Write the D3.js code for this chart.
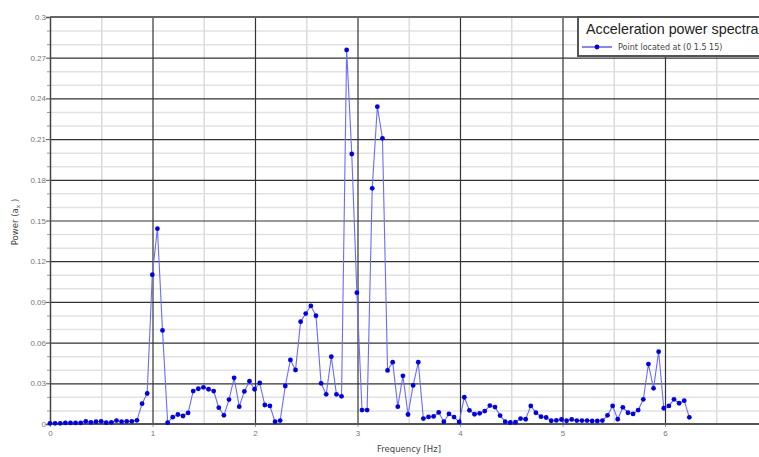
<!DOCTYPE html>
<html lang="en">
<head>
    <meta charset="UTF-8">
    <script src="https://d3js.org/d3.v7.min.js"></script>
    <style>
        body {
            margin: 0;
            padding: 0;
            background-color: #ffffff;
            font-family: 'DejaVu Sans', sans-serif;
        }

        svg {
            display: block;
        }

        .tick-label {
            fill: #777;
            font-size: 8px;
        }

        .axis-title {
            fill: #444;
            font-size: 8.5px;
        }
    </style>
</head>
<body>
    <svg id="chart"></svg>

    <script>
        // Frequencies [Hz] of the spectrum bins
        const freqs = [
            0, 0.0499, 0.0998, 0.1497, 0.1996, 0.2495, 0.2994, 0.3493, 0.3992, 0.4491,
            0.499, 0.5489, 0.5988, 0.6487, 0.6986, 0.7485, 0.7984, 0.8483, 0.8982, 0.9481,
            0.998, 1.0479, 1.0978, 1.1477, 1.1976, 1.2475, 1.2974, 1.3473, 1.3972, 1.4471,
            1.497, 1.5469, 1.5968, 1.6467, 1.6966, 1.7465, 1.7964, 1.8463, 1.8962, 1.9461,
            1.996, 2.0459, 2.0958, 2.1457, 2.1956, 2.2455, 2.2954, 2.3453, 2.3952, 2.4451,
            2.495, 2.5449, 2.5948, 2.6447, 2.6946, 2.7445, 2.7944, 2.8443, 2.8942, 2.9441,
            2.994, 3.0439, 3.0938, 3.1437, 3.1936, 3.2435, 3.2934, 3.3433, 3.3932, 3.4431,
            3.493, 3.5429, 3.5928, 3.6427, 3.6926, 3.7425, 3.7924, 3.8423, 3.8922, 3.9421,
            3.992, 4.0419, 4.0918, 4.1417, 4.1916, 4.2415, 4.2914, 4.3413, 4.3912, 4.4411,
            4.491, 4.5409, 4.5908, 4.6407, 4.6906, 4.7405, 4.7904, 4.8403, 4.8902, 4.9401,
            4.99, 5.0399, 5.0898, 5.1397, 5.1896, 5.2395, 5.2894, 5.3393, 5.3892, 5.4391,
            5.489, 5.5389, 5.5888, 5.6387, 5.6886, 5.7385, 5.7884, 5.8383, 5.8882, 5.9381,
            5.988, 6.0379, 6.0878, 6.1377, 6.1876, 6.2375
        ];

        // Power values
        const power = [
            0.0005, 0.0005, 0.0005, 0.0008, 0.0008, 0.0008, 0.0008, 0.002, 0.0012, 0.0017,
            0.002, 0.001, 0.0012, 0.0025, 0.0017, 0.002, 0.002, 0.0027, 0.015, 0.0225,
            0.110, 0.144, 0.069, 0.001, 0.005, 0.007, 0.0059, 0.0082, 0.0243, 0.026,
            0.027, 0.0256, 0.0243, 0.012, 0.0064, 0.018, 0.034, 0.0128, 0.024, 0.0315,
            0.0256, 0.0303, 0.014, 0.0133, 0.0017, 0.0025, 0.028, 0.0472, 0.0398, 0.0754,
            0.0814, 0.087, 0.0798, 0.030, 0.0219, 0.0496, 0.0219, 0.0204, 0.2757, 0.199,
            0.0968, 0.0103, 0.0103, 0.1737, 0.2339, 0.2106, 0.0395, 0.0456, 0.0128, 0.0355,
            0.007, 0.0284, 0.0455, 0.004, 0.0052, 0.0056, 0.0085, 0.0017, 0.0074, 0.0051,
            0.0015, 0.0197, 0.0101, 0.0072, 0.0079, 0.0095, 0.0136, 0.0125, 0.0062, 0.0017,
            0.0011, 0.0013, 0.004, 0.0035, 0.0133, 0.0083, 0.0054, 0.0048, 0.0024, 0.0026,
            0.0033, 0.0024, 0.0034, 0.0025, 0.0025, 0.0025, 0.0022, 0.0022, 0.0025, 0.0064,
            0.0133, 0.0035, 0.0123, 0.0083, 0.0074, 0.0103, 0.0182, 0.0442, 0.0263, 0.0533,
            0.0116, 0.0133, 0.0182, 0.0153, 0.0172, 0.0049
        ];

        // Axis ticks
        const xTicks = [0, 1, 2, 3, 4, 5, 6];
        const xMinorTicks = [0.5, 1.5, 2.5, 3.5, 4.5, 5.5, 6.5];
        const yTicks = [0, 0.03, 0.06, 0.09, 0.12, 0.15, 0.18, 0.21, 0.24, 0.27, 0.3];
        const yTickLabels = ["0", "0.03", "0.06", "0.09", "0.12", "0.15", "0.18", "0.21", "0.24", "0.27", "0.3"];
        const yMinorTicks = [0.01, 0.02, 0.04, 0.05, 0.07, 0.08, 0.1, 0.11, 0.13, 0.14,
            0.16, 0.17, 0.19, 0.2, 0.22, 0.23, 0.25, 0.26, 0.28, 0.29];

        const legendTitle = "Acceleration power spectra";
        const seriesName = "Point located at (0 1.5 15)";

        const W = 759, H = 457;
        const margin = { top: 17, left: 50 };
        const plotH = 407;
        const plotW = 102.5 * 7; // runs past the right edge, as in the original

        const svg = d3.select("#chart")
            .attr("width", W)
            .attr("height", H);

        const g = svg.append("g")
            .attr("transform", `translate(${margin.left},${margin.top})`);

        const x = d3.scaleLinear().domain([0, 7]).range([0, plotW]);
        const y = d3.scaleLinear().domain([0, 0.3]).range([plotH, 0]);

        // minor grid
        g.append("g")
            .call(d3.axisLeft(y).tickValues(yMinorTicks).tickSize(-plotW).tickFormat(""))
            .call(a => a.select(".domain").remove())
            .selectAll("line").attr("stroke", "#e2e2e2").attr("stroke-width", 1.5);

        g.append("g")
            .call(d3.axisBottom(x).tickValues(xMinorTicks).tickSize(plotH).tickFormat(""))
            .call(a => a.select(".domain").remove())
            .selectAll("line").attr("stroke", "#dcdcdc").attr("stroke-width", 1.5);

        // minor ticks on the left of the y axis
        g.append("g")
            .call(d3.axisLeft(y).tickValues(yMinorTicks).tickSize(3).tickFormat(""))
            .call(a => a.select(".domain").remove())
            .selectAll("line").attr("stroke", "#999");

        // major grid
        g.append("g")
            .call(d3.axisLeft(y).tickValues(yTicks).tickSize(-plotW).tickFormat(""))
            .call(a => a.select(".domain").remove())
            .selectAll("line").attr("stroke", "#333").attr("stroke-width", 1.2);

        g.append("g")
            .call(d3.axisBottom(x).tickValues(xTicks.slice(1)).tickSize(plotH).tickFormat(""))
            .call(a => a.select(".domain").remove())
            .selectAll("line").attr("stroke", "#333").attr("stroke-width", 1.2);

        // y axis with labels
        const yAxis = g.append("g")
            .call(d3.axisLeft(y).tickValues(yTicks).tickSize(4)
                .tickFormat((d, i) => yTickLabels[i]));
        yAxis.select(".domain").attr("stroke", "#444").attr("stroke-width", 1.5);
        yAxis.selectAll("line").attr("stroke", "#555");
        yAxis.selectAll("text").attr("class", "tick-label").attr("x", -4).attr("dy", "0.32em");

        // x axis with labels
        const xAxis = g.append("g")
            .attr("transform", `translate(0,${plotH})`)
            .call(d3.axisBottom(x).tickValues(xTicks).tickSize(3).tickFormat(d3.format("d")));
        xAxis.select(".domain").remove();
        xAxis.selectAll("line").attr("stroke", "#999");
        xAxis.selectAll("text").attr("class", "tick-label").attr("y", 6);

        // frame lines: bottom and top
        g.append("line")
            .attr("x1", 0).attr("x2", plotW)
            .attr("y1", y(0)).attr("y2", y(0))
            .attr("stroke", "#555").attr("stroke-width", 2);
        g.append("line")
            .attr("x1", 0).attr("x2", plotW)
            .attr("y1", y(0.3)).attr("y2", y(0.3))
            .attr("stroke", "#666").attr("stroke-width", 2);

        // series
        const pts = freqs.map((f, i) => ({ f: f, v: power[i] }));

        const line = d3.line()
            .x(d => x(d.f))
            .y(d => y(d.v));

        g.append("path")
            .datum(pts)
            .attr("fill", "none")
            .attr("stroke", "#6b6bff")
            .attr("stroke-width", 1.1)
            .attr("d", line);

        g.selectAll(".dot")
            .data(pts)
            .enter()
            .append("circle")
            .attr("class", "dot")
            .attr("cx", d => x(d.f))
            .attr("cy", d => y(d.v))
            .attr("r", 2.4)
            .attr("fill", "#0000f0");

        // axis titles
        svg.append("text")
            .attr("class", "axis-title")
            .attr("x", 409)
            .attr("y", 452)
            .attr("text-anchor", "middle")
            .text("Frequency [Hz]");

        const yt = svg.append("text")
            .attr("class", "axis-title")
            .attr("transform", "translate(18,222) rotate(-90)")
            .attr("text-anchor", "middle");
        yt.append("tspan").text("Power (a");
        yt.append("tspan").attr("font-size", "6px").attr("dy", 2).text("x");
        yt.append("tspan").attr("dy", -2).text(" )");

        // legend
        const lg = svg.append("g").attr("transform", "translate(578,17)");
        lg.append("rect")
            .attr("x", 0).attr("y", 0)
            .attr("width", 200).attr("height", 39)
            .attr("fill", "#fff")
            .attr("stroke", "#555")
            .attr("stroke-width", 2);
        lg.append("text")
            .attr("x", 8).attr("y", 17)
            .attr("font-family", "'Liberation Sans', Arial, sans-serif")
            .attr("font-size", "14.3px")
            .attr("fill", "#222")
            .text(legendTitle);
        lg.append("line")
            .attr("x1", 4).attr("x2", 34)
            .attr("y1", 30).attr("y2", 30)
            .attr("stroke", "#3333ff").attr("stroke-width", 1.2);
        lg.append("circle")
            .attr("cx", 19).attr("cy", 30).attr("r", 2.4)
            .attr("fill", "#0000f0");
        lg.append("text")
            .attr("x", 40).attr("y", 33)
            .attr("font-size", "8px")
            .attr("fill", "#444")
            .text(seriesName);
    </script>
</body>
</html>
